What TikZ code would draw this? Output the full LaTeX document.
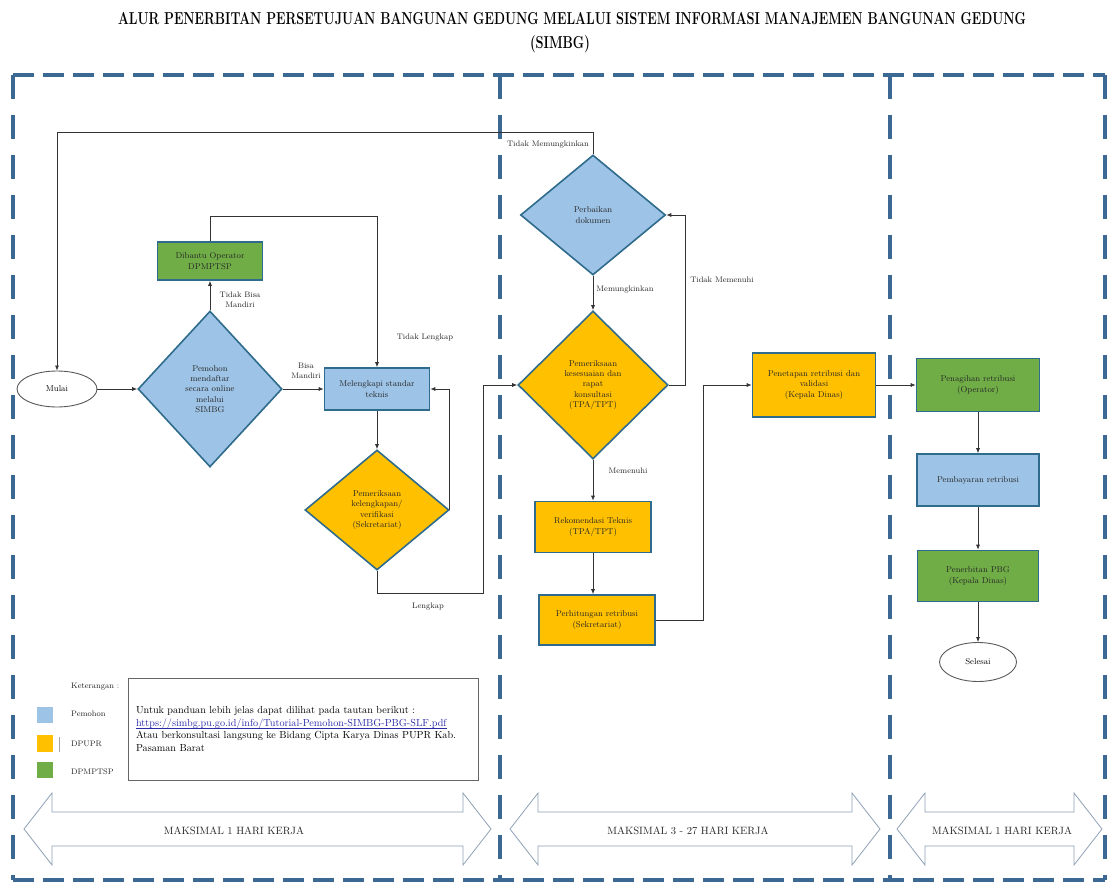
\documentclass[tikz,border=0pt]{standalone}
\usepackage{tikz}
\usetikzlibrary{shapes.geometric,arrows.meta}

\definecolor{pemohonclr}{HTML}{9DC3E6}
\definecolor{dpuprclr}{HTML}{FFC000}
\definecolor{dpmptspclr}{HTML}{70AD47}
\definecolor{tepiclr}{HTML}{2F6B8C}
\definecolor{garisclr}{HTML}{3B6994}
\definecolor{panahclr}{HTML}{8EA1B5}
\definecolor{linkclr}{HTML}{2B2BA8}
% double block arrow from x #2 to x #3 around height #4
\def\dblarrow[#1](#2:#3:#4){\draw[#1] (#2,#4) -- (#2+28,#4-36) -- (#2+28,#4-17) -- (#3-28,#4-17) -- (#3-28,#4-36) -- (#3,#4) -- (#3-28,#4+36) -- (#3-28,#4+17) -- (#2+28,#4+17) -- (#2+28,#4+36) -- cycle;}
% underline for the link
\newcommand\garisbawah[1]{\setbox0=\hbox{#1}\rlap{\vrule height -1.3pt depth 1.9pt width \wd0}\box0}

\tikzset{
	proses/.style={draw=tepiclr, line width=1.6pt, align=center, inner sep=1pt, text=black!85, font=\fontsize{8.5}{10.3}\selectfont},
	keputusan/.style={proses, diamond, inner sep=0pt},
	pemohon/.style={fill=pemohonclr},
	dpupr/.style={fill=dpuprclr},
	dpmptsp/.style={fill=dpmptspclr},
	ujung/.style={draw=black!65, fill=white, ellipse, line width=0.9pt, inner sep=0pt, font=\fontsize{8.5}{10}\selectfont},
	alur/.style={-{Latex[length=5pt,width=4pt]}, line width=0.7pt, draw=black!80},
	ket/.style={font=\fontsize{8}{9.8}\selectfont, align=center, inner sep=0pt, text=black!85},
	batas/.style={draw=garisclr, line width=4.5pt},
	waktu/.style={font=\fontsize{10.6}{12}\selectfont, text=black!85},
}

\begin{document}
\begin{tikzpicture}[x=1pt,y=-1pt]
				%%%%% START %%%%%
				\def\yatas{75}
				\def\ybawah{880}
				\def\ymid{829}
				\useasboundingbox (0,0) rectangle (1108,885);
				
				% judul
				\node (judul) at (572,19) {\fontsize{12.8}{15}\bfseries\scalebox{1}[1.35]{ALUR PENERBITAN PERSETUJUAN BANGUNAN GEDUNG MELALUI SISTEM INFORMASI MANAJEMEN BANGUNAN GEDUNG}};
				\node (judul2) at (560,44) {\fontsize{12.8}{15}\bfseries\scalebox{1}[1.35]{(SIMBG)}};
				
				% garis putus-putus
				\draw[batas, dash pattern=on 21pt off 9pt] (13,\yatas) -- (1105,\yatas);
				\draw[batas, dash pattern=on 21pt off 9pt] (13,\ybawah) -- (1105,\ybawah);
				\foreach \xb in {13,500,890,1105}
					\draw[batas, dash pattern=on 24pt off 16pt] (\xb,\yatas) -- (\xb,\ybawah);
				
				% kolom 1
				\node[ujung, minimum width=80, minimum height=36] (mulai) at (57,389) {Mulai};
				\node[keputusan, pemohon, minimum width=144, minimum height=156] (daftar) at (210,389) {Pemohon\\mendaftar\\secara online\\melalui\\SIMBG};
				\node[proses, dpmptsp, minimum width=105, minimum height=38] (bantu) at (210,261) {Dibantu Operator\\DPMPTSP};
				\node[proses, pemohon, minimum width=105, minimum height=42] (lengkapi) at (377,389) {Melengkapi standar\\teknis};
				\node[keputusan, dpupr, minimum width=144, minimum height=120] (periksa) at (377,510) {Pemeriksaan\\kelengkapan/\\verifikasi\\(Sekretariat)};
				
				% kolom 2
				\node[keputusan, pemohon, minimum width=145, minimum height=120] (perbaikan) at (593,215) {Perbaikan\\dokumen};
				\node[keputusan, dpupr, minimum width=150, minimum height=148] (sesuai) at (593,385) {Pemeriksaan\\kesesuaian dan\\rapat\\konsultasi\\(TPA/TPT)};
				\node[proses, dpupr, minimum width=116, minimum height=51] (rekom) at (593,527) {Rekomendasi Teknis\\(TPA/TPT)};
				\node[proses, dpupr, minimum width=116, minimum height=50] (hitung) at (597,620) {Perhitungan retribusi\\(Sekretariat)};
				\node[proses, dpupr, minimum width=123, minimum height=64] (tetap) at (814,385) {Penetapan retribusi dan\\validasi\\(Kepala Dinas)};
				
				% kolom 3
				\node[proses, dpmptsp, minimum width=123, minimum height=53] (tagih) at (978,385) {Penagihan retribusi\\(Operator)};
				\node[proses, pemohon, minimum width=122, minimum height=52] (bayar) at (978,480) {Pembayaran retribusi};
				\node[proses, dpmptsp, minimum width=121, minimum height=51] (terbit) at (978,576) {Penerbitan PBG\\(Kepala Dinas)};
				\node[ujung, minimum width=77, minimum height=39] (selesai) at (978,662) {Selesai};
				
				% alur
				\coordinate (tmk) at (57,132);
				\coordinate (lk) at (483,593);
				\draw[alur] (mulai.east) -- (daftar.west);
				\draw[alur] (daftar.north) -- (bantu.south);
				\draw[alur] (bantu.north) -- ++(0,-25) -| (lengkapi.north);
				\draw[alur] (daftar.east) -- (lengkapi.west);
				\draw[alur] (lengkapi.south) -- (periksa.north);
				\draw[alur] (periksa.east) |- (lengkapi.east);
				\draw[alur] (periksa.south) |- (lk) |- (sesuai.west);
				\draw[alur] (sesuai.east) -- ++(17,0) |- (perbaikan.east);
				\draw[alur] (perbaikan.north) |- (tmk) -- (mulai.north);
				\draw[alur] (perbaikan.south) -- (sesuai.north);
				\draw[alur] (sesuai.south) -- (rekom.north);
				\draw[alur] (rekom.south) -- (rekom.south |- hitung.north);
				\draw[alur] (hitung.east) -- ++(48,0) |- (tetap.west);
				\draw[alur] (tetap.east) -- (tagih.west);
				\draw[alur] (tagih.south) -- (bayar.north);
				\draw[alur] (bayar.south) -- (terbit.north);
				\draw[alur] (terbit.south) -- (selesai.north);
				
				% keterangan alur
				\node[ket] (l1) at (240,300) {Tidak Bisa\\Mandiri};
				\node[ket] (l2) at (306,371) {Bisa\\Mandiri};
				\node[ket] (l3) at (425,338) {Tidak Lengkap};
				\node[ket] (l4) at (428,607) {Lengkap};
				\node[ket] (l5) at (548,145) {Tidak Memungkinkan};
				\node[ket] (l6) at (625,290) {Memungkinkan};
				\node[ket] (l7) at (722,280) {Tidak Memenuhi};
				\node[ket] (l8) at (628,471) {Memenuhi};
				
				% legenda
				\node[ket, anchor=west] (keterangan) at (71,687) {Keterangan :};
				\fill[pemohonclr] (37,707) rectangle (53,723);
				\fill[dpuprclr] (37,735) rectangle (53,752);
				\fill[dpmptspclr] (37,762) rectangle (53,778);
				\draw[black!35] (59,737) -- (59,752);
				\node[ket, anchor=west] (lg1) at (71,714) {Pemohon};
				\node[ket, anchor=west] (lg2) at (71,744) {DPUPR};
				\node[ket, anchor=west] (lg3) at (71,772) {DPMPTSP};
				\node[draw=black!60, line width=0.8pt, minimum width=350, minimum height=102, text width=334, align=left, inner sep=0pt, font=\fontsize{10.2}{12.4}\selectfont] (info) at (303,729)
					{Untuk panduan lebih jelas dapat dilihat pada tautan berikut :\\
					\textcolor{linkclr}{\garisbawah{https://simbg.pu.go.id/info/Tutorial-Pemohon-SIMBG-PBG-SLF.pdf}}\\
					Atau berkonsultasi langsung ke Bidang Cipta Karya Dinas PUPR Kab.\\
					Pasaman Barat};
				
				% panah waktu
				\dblarrow[draw=panahclr, line width=0.8pt, fill=white](24:491:\ymid)
				\dblarrow[draw=panahclr, line width=0.8pt, fill=white](510:880:\ymid)
				\dblarrow[draw=panahclr, line width=0.8pt, fill=white](897:1102:\ymid)
				\node[waktu] (w1) at (234,\ymid+2) {MAKSIMAL 1 HARI KERJA};
				\node[waktu] (w2) at (688,\ymid+2) {MAKSIMAL 3 - 27 HARI KERJA};
				\node[waktu] (w3) at (1002,\ymid+2) {MAKSIMAL 1 HARI KERJA};
				%%%%% END %%%%%
\end{tikzpicture}
\end{document}
